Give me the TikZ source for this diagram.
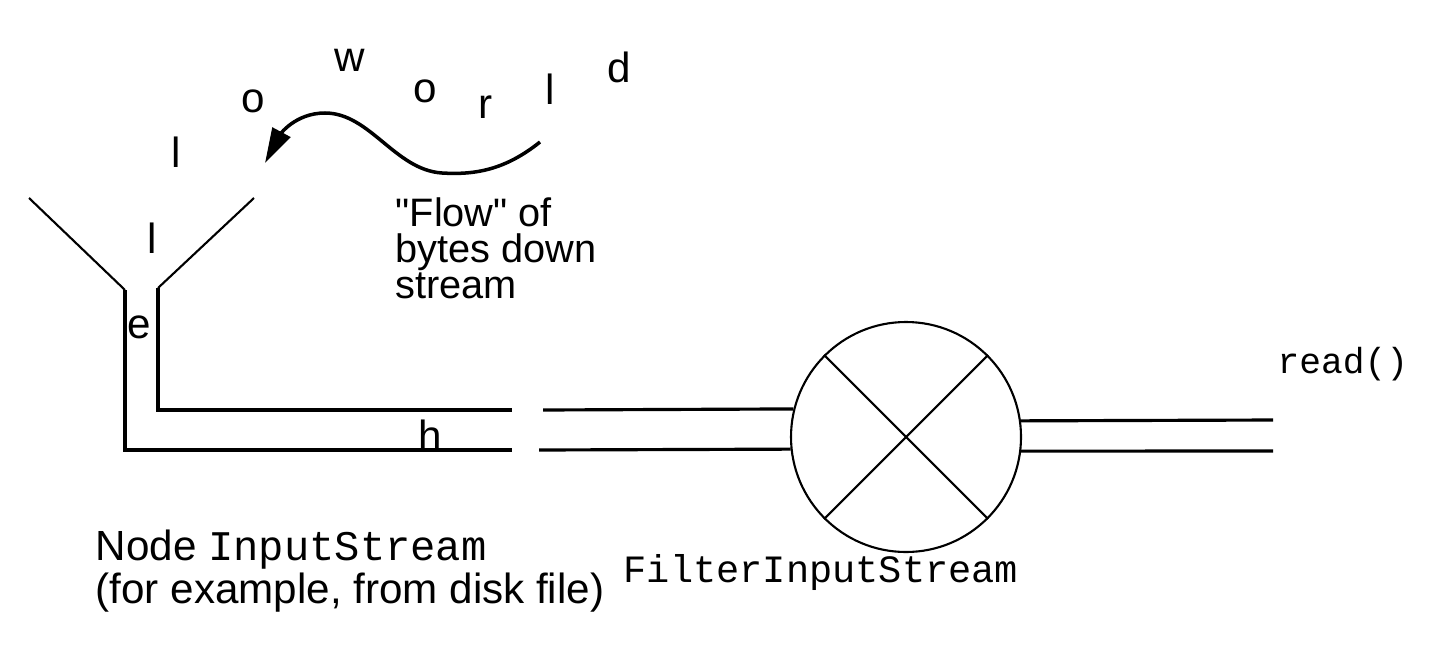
\documentclass[tikz,border=0pt]{standalone}
\usepackage{fontspec}
\setmainfont{Liberation Sans}[Ligatures=TeXOff]
\setmonofont{Liberation Mono}
\usetikzlibrary{arrows.meta}

\tikzset{
  pipe/.style={line width=0.9pt},
  thinline/.style={line width=0.6pt},
  letter/.style={anchor=base, inner sep=0pt, font=\fontsize{12}{12}\selectfont},
  caption/.style={anchor=base west, inner sep=0pt, align=left},
  code/.style={anchor=base west, inner sep=0pt, font=\ttfamily\fontsize{11}{11}\selectfont},
}

\begin{document}
\begin{tikzpicture}
    \useasboundingbox (0,0) rectangle (14.33,-6.61);

    % funnel and first pipe
    \coordinate (inL) at (0.29,-1.98);
    \coordinate (inR) at (2.54,-1.98);
    \coordinate (neckL) at (1.25,-2.90);
    \coordinate (neckR) at (1.58,-2.88);
    \coordinate (endT) at (5.12,-4.10);
    \coordinate (endB) at (5.12,-4.50);
    \coordinate (startT) at (5.43,-4.10);
    \coordinate (startB) at (5.39,-4.50);
    \coordinate (outT) at (12.73,-4.20);
    \coordinate (outB) at (12.73,-4.51);

    \draw[thinline] (inL) -- (neckL);
    \draw[thinline] (inR) -- (neckR);
    \draw[pipe] (neckL) -- (neckL |- endB) -- (endB);
    \draw[pipe] (neckR) -- (neckR |- endT) -- (endT);

    % filter
    \node[circle, draw, thinline, minimum size=2.30cm, inner sep=0pt] (filter) at (9.06,-4.37) {};
    \draw[thinline] (filter.45) -- (filter.225);
    \draw[thinline] (filter.135) -- (filter.-45);

    \draw[pipe] (startT) -- (filter.166.4);
    \draw[pipe] (startB) -- (filter.186.5);
    \draw[pipe] (filter.8.5) -- (outT);
    \draw[pipe] (filter.-7) -- (outB);

    % flow of bytes
    \draw[line width=1pt, -{Triangle[length=3.5mm,width=2mm]}] (5.40,-1.42)
        .. controls (5.05,-1.70) and (4.75,-1.75) .. (4.42,-1.73)
        .. controls (3.95,-1.70) and (3.70,-1.13) .. (3.25,-1.13)
        .. controls (2.95,-1.13) and (2.80,-1.35) .. (2.65,-1.63);

    \draw (3.50,-0.71) node[letter](w){w}
          (2.53,-1.12) node[letter](o1){o}
          (1.76,-1.67) node[letter](l1){l}
          (1.52,-2.53) node[letter](l2){l}
          (1.39,-3.38) node[letter](e){e}
          (4.30,-4.50) node[letter](h){h}
          (4.25,-1.02) node[letter](o2){o}
          (4.86,-1.18) node[letter](r){r}
          (5.50,-1.04) node[letter](l3){l}
          (6.19,-0.82) node[letter](d){d};

    \node[caption, font=\fontsize{11.3}{10.2}\selectfont] (flow) at (3.95,-2.98)
        {"Flow" of\\bytes down\\stream};

    % labels
    \node[caption, font=\fontsize{12}{10.2}\selectfont] (source) at (0.95,-6.03)
        {Node \texttt{InputStream}\\(for example, from disk file)};
    \node[code] (fname) at (6.23,-5.82) {FilterInputStream};
    \node[code, font=\ttfamily\fontsize{10.3}{10.3}\selectfont] (read) at (12.77,-3.73) {read()};
\end{tikzpicture}
\end{document}
